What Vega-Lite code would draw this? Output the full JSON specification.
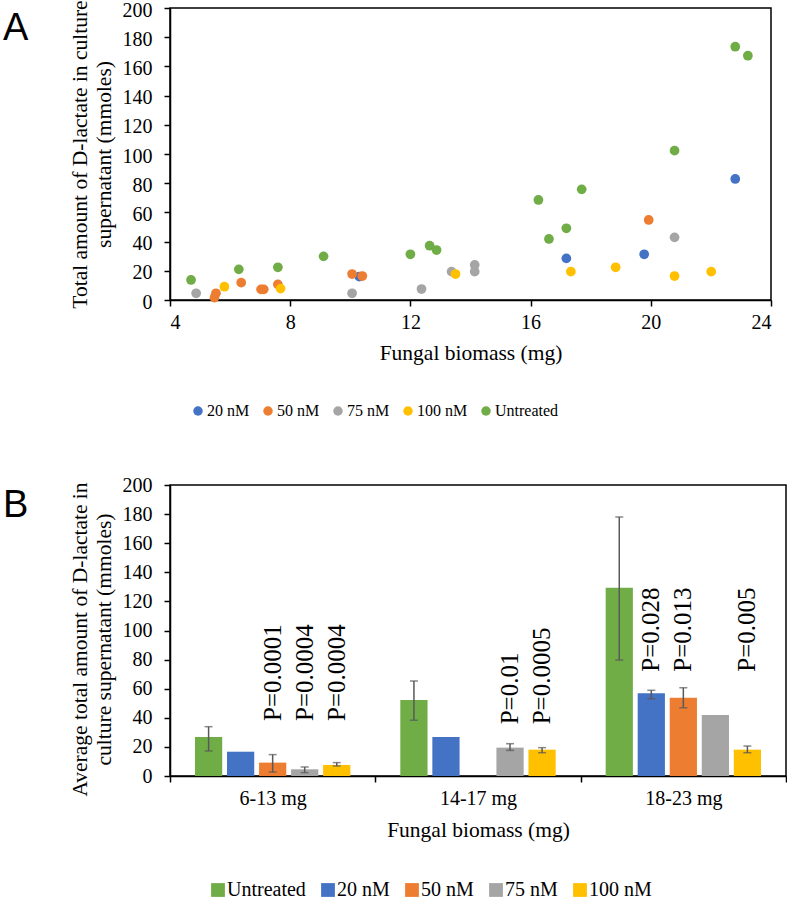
{
  "$schema": "https://vega.github.io/schema/vega-lite/v6.json",
  "background": "white",
  "padding": {"left": 2, "top": -4, "right": 0, "bottom": 0},
  "bounds": "flush",
  "spacing": 185,
  "resolve": {"scale": {"color": "independent"}, "legend": {"color": "independent"}},
  "config": {
    "font": "Liberation Serif",
    "view": {"stroke": "black", "strokeWidth": 1.5},
    "axis": {
      "domainColor": "black", "domainWidth": 1.5, "tickColor": "black", "tickWidth": 1.5, "tickSize": 6,
      "labelFont": "Liberation Serif", "labelFontSize": 20, "labelColor": "black", "labelOverlap": false,
      "titleFont": "Liberation Serif", "titleFontSize": 21.5, "titleFontWeight": "normal", "titleColor": "black",
      "grid": false
    },
    "legend": {"labelFont": "Liberation Serif", "labelFontSize": 20, "labelColor": "black", "padding": 0},
    "title": {"font": "Liberation Sans", "fontSize": 38, "fontWeight": "normal", "color": "black", "anchor": "start", "frame": "group", "baseline": "alphabetic", "offset": 0}
  },
  "datasets": {
    "points": [
      {"treatment": "20 nM", "biomass": 10.3, "lactate": 16.0},
      {"treatment": "20 nM", "biomass": 17.19, "lactate": 28.5},
      {"treatment": "20 nM", "biomass": 19.78, "lactate": 31.3},
      {"treatment": "20 nM", "biomass": 22.81, "lactate": 82.9},
      {"treatment": "50 nM", "biomass": 5.53, "lactate": 4.6},
      {"treatment": "50 nM", "biomass": 5.48, "lactate": 1.6},
      {"treatment": "50 nM", "biomass": 6.37, "lactate": 11.9},
      {"treatment": "50 nM", "biomass": 7.03, "lactate": 7.3},
      {"treatment": "50 nM", "biomass": 7.12, "lactate": 7.3},
      {"treatment": "50 nM", "biomass": 7.59, "lactate": 10.7},
      {"treatment": "50 nM", "biomass": 10.06, "lactate": 17.8},
      {"treatment": "50 nM", "biomass": 10.4, "lactate": 16.4},
      {"treatment": "50 nM", "biomass": 19.93, "lactate": 54.8},
      {"treatment": "75 nM", "biomass": 4.87, "lactate": 4.6},
      {"treatment": "75 nM", "biomass": 10.06, "lactate": 4.6},
      {"treatment": "75 nM", "biomass": 12.37, "lactate": 7.5},
      {"treatment": "75 nM", "biomass": 13.37, "lactate": 19.4},
      {"treatment": "75 nM", "biomass": 14.14, "lactate": 24.0},
      {"treatment": "75 nM", "biomass": 14.14, "lactate": 19.4},
      {"treatment": "75 nM", "biomass": 20.79, "lactate": 42.9},
      {"treatment": "100 nM", "biomass": 5.81, "lactate": 9.1},
      {"treatment": "100 nM", "biomass": 7.68, "lactate": 7.8},
      {"treatment": "100 nM", "biomass": 13.5, "lactate": 17.8},
      {"treatment": "100 nM", "biomass": 17.34, "lactate": 19.4},
      {"treatment": "100 nM", "biomass": 18.83, "lactate": 22.4},
      {"treatment": "100 nM", "biomass": 20.79, "lactate": 16.4},
      {"treatment": "100 nM", "biomass": 22.01, "lactate": 19.4},
      {"treatment": "Untreated", "biomass": 4.7, "lactate": 13.7},
      {"treatment": "Untreated", "biomass": 6.29, "lactate": 21.0},
      {"treatment": "Untreated", "biomass": 7.59, "lactate": 22.4},
      {"treatment": "Untreated", "biomass": 9.11, "lactate": 29.9},
      {"treatment": "Untreated", "biomass": 12.0, "lactate": 31.3},
      {"treatment": "Untreated", "biomass": 12.64, "lactate": 37.2},
      {"treatment": "Untreated", "biomass": 12.87, "lactate": 34.2},
      {"treatment": "Untreated", "biomass": 16.26, "lactate": 68.5},
      {"treatment": "Untreated", "biomass": 16.61, "lactate": 41.8},
      {"treatment": "Untreated", "biomass": 17.19, "lactate": 49.1},
      {"treatment": "Untreated", "biomass": 17.7, "lactate": 75.8},
      {"treatment": "Untreated", "biomass": 20.79, "lactate": 102.3},
      {"treatment": "Untreated", "biomass": 22.81, "lactate": 173.5},
      {"treatment": "Untreated", "biomass": 23.23, "lactate": 167.3}
    ],
    "bars": [
      {"group": "6-13 mg", "treatment": "Untreated", "mean": 26.8, "lo": 17.2, "hi": 33.9},
      {"group": "6-13 mg", "treatment": "20 nM", "mean": 16.7, "lo": null, "hi": null},
      {"group": "6-13 mg", "treatment": "50 nM", "mean": 9.2, "lo": 2.7, "hi": 14.7},
      {"group": "6-13 mg", "treatment": "75 nM", "mean": 4.6, "lo": 2.3, "hi": 6.2},
      {"group": "6-13 mg", "treatment": "100 nM", "mean": 7.6, "lo": 6.9, "hi": 9.2},
      {"group": "14-17 mg", "treatment": "Untreated", "mean": 52.2, "lo": 38.3, "hi": 65.3},
      {"group": "14-17 mg", "treatment": "20 nM", "mean": 26.8, "lo": null, "hi": null},
      {"group": "14-17 mg", "treatment": "75 nM", "mean": 19.5, "lo": 17.6, "hi": 22.2},
      {"group": "14-17 mg", "treatment": "100 nM", "mean": 18.1, "lo": 16.0, "hi": 19.5},
      {"group": "18-23 mg", "treatment": "Untreated", "mean": 129.4, "lo": 79.7, "hi": 178.0},
      {"group": "18-23 mg", "treatment": "20 nM", "mean": 56.8, "lo": 53.1, "hi": 58.9},
      {"group": "18-23 mg", "treatment": "50 nM", "mean": 53.8, "lo": 46.9, "hi": 60.7},
      {"group": "18-23 mg", "treatment": "75 nM", "mean": 41.9, "lo": null, "hi": null},
      {"group": "18-23 mg", "treatment": "100 nM", "mean": 18.1, "lo": 16.0, "hi": 20.6}
    ],
    "pvalues": [
      {"group": "6-13 mg", "treatment": "50 nM", "p": "P=0.0001", "at": 37.8},
      {"group": "6-13 mg", "treatment": "75 nM", "p": "P=0.0004", "at": 37.8},
      {"group": "6-13 mg", "treatment": "100 nM", "p": "P=0.0004", "at": 37.8},
      {"group": "14-17 mg", "treatment": "75 nM", "p": "P=0.01", "at": 35.5},
      {"group": "14-17 mg", "treatment": "100 nM", "p": "P=0.0005", "at": 35.5},
      {"group": "18-23 mg", "treatment": "20 nM", "p": "P=0.028", "at": 71.7},
      {"group": "18-23 mg", "treatment": "50 nM", "p": "P=0.013", "at": 71.7},
      {"group": "18-23 mg", "treatment": "100 nM", "p": "P=0.005", "at": 71.7}
    ]
  },
  "vconcat": [
    {
      "width": 601,
      "height": 292,
      "title": {"text": "A", "dx": -167, "dy": 55},
      "data": {"name": "points"},
      "mark": {"type": "circle", "size": 95, "opacity": 1},
      "encoding": {
        "x": {
          "field": "biomass", "type": "quantitative",
          "scale": {"domain": [4, 24], "nice": false, "zero": false},
          "axis": {"values": [4, 8, 12, 16, 20, 24], "title": "Fungal biomass (mg)", "labelFont": "Liberation Serif", "labelPadding": 6, "titlePadding": 10}
        },
        "y": {
          "field": "lactate", "type": "quantitative",
          "scale": {"domain": [0, 200], "nice": false},
          "axis": {"values": [0, 20, 40, 60, 80, 100, 120, 140, 160, 180, 200], "labelFont": "Liberation Serif", "labelOverlap": false, "labelOffset": 2, "labelPadding": 12, "titlePadding": 7, "titleLineHeight": 24,
            "title": ["Total  amount of D-lactate in culture", "supernatant  (mmoles)"]}
        },
        "color": {
          "field": "treatment", "type": "nominal",
          "scale": {"domain": ["20 nM", "50 nM", "75 nM", "100 nM", "Untreated"], "range": ["#4472C4", "#ED7D31", "#A5A5A5", "#FFC000", "#70AD47"]},
          "legend": {"title": null, "orient": "none", "direction": "horizontal", "legendX": 20, "legendY": 395, "symbolType": "circle", "symbolSize": 90, "symbolStrokeWidth": 0, "labelFontSize": 16, "labelOffset": 1, "columnPadding": 10}
        }
      }
    },
    {
      "width": 616,
      "height": 291,
      "title": {"text": "B", "dx": -167, "dy": 54},
      "layer": [
        {
          "data": {"name": "bars"},
          "mark": {"type": "bar"},
          "encoding": {
            "x": {
              "field": "group", "type": "nominal",
              "scale": {"domain": ["6-13 mg", "14-17 mg", "18-23 mg"], "paddingInner": 0, "paddingOuter": 0},
              "axis": {"title": "Fungal biomass (mg)", "labelFont": "Liberation Serif", "labelAngle": 0, "tickBand": "extent", "labelPadding": 6, "titlePadding": 11}
            },
            "xOffset": {
              "field": "treatment", "type": "nominal",
              "scale": {"domain": ["Untreated", "20 nM", "50 nM", "75 nM", "100 nM"], "paddingInner": 0.15, "paddingOuter": 0.78}
            },
            "y": {
              "field": "mean", "type": "quantitative",
              "scale": {"domain": [0, 200], "nice": false},
              "axis": {"values": [0, 20, 40, 60, 80, 100, 120, 140, 160, 180, 200], "labelFont": "Liberation Serif", "labelOverlap": false, "labelPadding": 12, "titlePadding": 7, "titleLineHeight": 24, "titleY": 154,
                "title": ["Average total  amount of D-lactate in", "culture supernatant  (mmoles)"]}
            },
            "color": {
              "field": "treatment", "type": "nominal",
              "scale": {"domain": ["Untreated", "20 nM", "50 nM", "75 nM", "100 nM"], "range": ["#70AD47", "#4472C4", "#ED7D31", "#A5A5A5", "#FFC000"]},
              "legend": {"title": null, "orient": "none", "direction": "horizontal", "legendX": 38, "legendY": 395, "symbolType": "square", "symbolSize": 190, "symbolStrokeWidth": 0, "labelOffset": -1, "columnPadding": 12}
            }
          }
        },
        {
          "data": {"name": "bars"},
          "transform": [{"filter": "datum.lo != null"}],
          "mark": {"type": "rule", "color": "#595959", "strokeWidth": 1.5},
          "encoding": {
            "x": {"field": "group", "type": "nominal"},
            "xOffset": {"field": "treatment", "type": "nominal"},
            "y": {"field": "lo", "type": "quantitative", "scale": {"domain": [0, 200], "nice": false},
              "axis": {"values": [0, 20, 40, 60, 80, 100, 120, 140, 160, 180, 200], "labelFont": "Liberation Serif", "labelOverlap": false, "labelPadding": 12, "titlePadding": 7, "titleLineHeight": 24, "titleY": 154,
                "title": ["Average total  amount of D-lactate in", "culture supernatant  (mmoles)"]}},
            "y2": {"field": "hi"}
          }
        },
        {
          "data": {"name": "bars"},
          "transform": [{"filter": "datum.lo != null"}],
          "mark": {"type": "tick", "color": "#595959", "size": 8, "thickness": 1.5, "orient": "horizontal"},
          "encoding": {
            "x": {"field": "group", "type": "nominal"},
            "xOffset": {"field": "treatment", "type": "nominal"},
            "y": {"field": "lo", "type": "quantitative", "scale": {"domain": [0, 200], "nice": false},
              "axis": {"values": [0, 20, 40, 60, 80, 100, 120, 140, 160, 180, 200], "labelFont": "Liberation Serif", "labelOverlap": false, "labelPadding": 12, "titlePadding": 7, "titleLineHeight": 24, "titleY": 154,
                "title": ["Average total  amount of D-lactate in", "culture supernatant  (mmoles)"]}}
          }
        },
        {
          "data": {"name": "bars"},
          "transform": [{"filter": "datum.hi != null"}],
          "mark": {"type": "tick", "color": "#595959", "size": 8, "thickness": 1.5, "orient": "horizontal"},
          "encoding": {
            "x": {"field": "group", "type": "nominal"},
            "xOffset": {"field": "treatment", "type": "nominal"},
            "y": {"field": "hi", "type": "quantitative", "scale": {"domain": [0, 200], "nice": false},
              "axis": {"values": [0, 20, 40, 60, 80, 100, 120, 140, 160, 180, 200], "labelFont": "Liberation Serif", "labelOverlap": false, "labelPadding": 12, "titlePadding": 7, "titleLineHeight": 24, "titleY": 154,
                "title": ["Average total  amount of D-lactate in", "culture supernatant  (mmoles)"]}}
          }
        },
        {
          "data": {"name": "pvalues"},
          "mark": {"type": "text", "angle": -90, "align": "left", "baseline": "middle", "font": "Liberation Serif", "fontSize": 25, "color": "black"},
          "encoding": {
            "x": {"field": "group", "type": "nominal"},
            "xOffset": {"field": "treatment", "type": "nominal"},
            "y": {"field": "at", "type": "quantitative", "scale": {"domain": [0, 200], "nice": false},
              "axis": {"values": [0, 20, 40, 60, 80, 100, 120, 140, 160, 180, 200], "labelFont": "Liberation Serif", "labelOverlap": false, "labelPadding": 12, "titlePadding": 7, "titleLineHeight": 24, "titleY": 154,
                "title": ["Average total  amount of D-lactate in", "culture supernatant  (mmoles)"]}},
            "text": {"field": "p"}
          }
        }
      ]
    }
  ]
}
